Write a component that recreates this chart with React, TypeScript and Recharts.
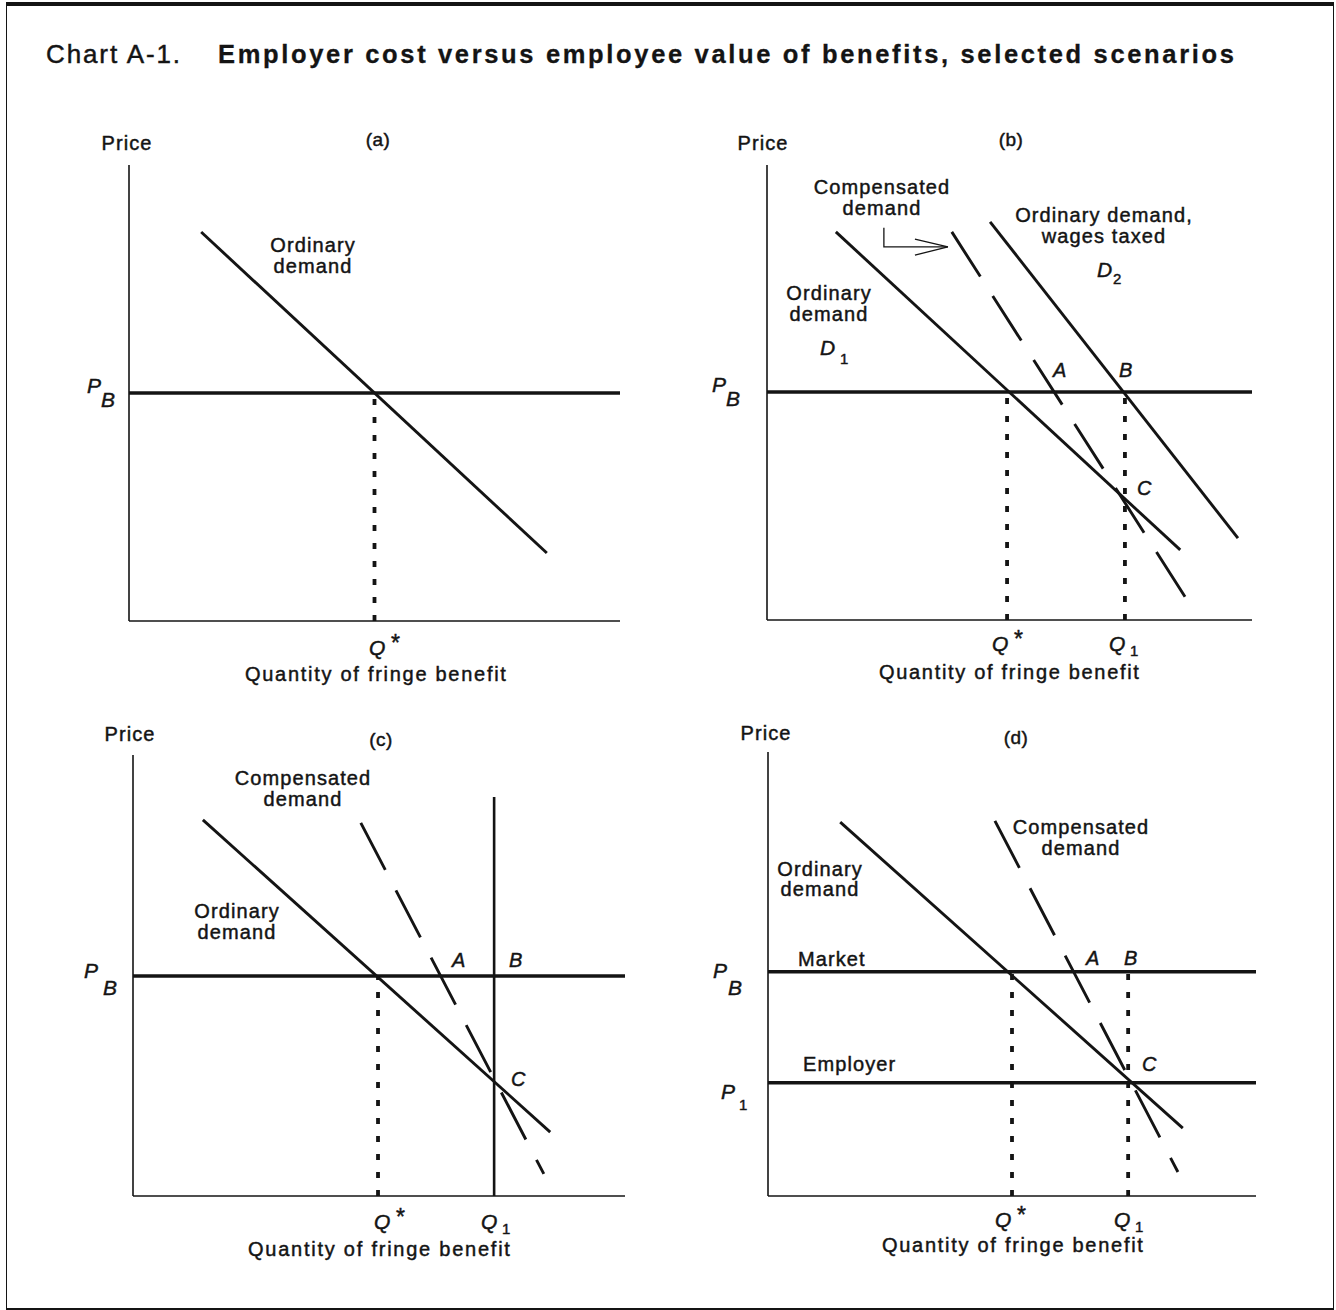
import React from 'react';
import { LineChart, Line, XAxis, YAxis, ReferenceLine } from 'recharts';

// all values on a 0-100 quantity (x) / price (y) scale per panel

// (a)
const aOrdinary = [{ q: 14.7, p: 85.3 }, { q: 85.1, p: 14.9 }];
const aPriceB = 50;
const aQStar = 50;

// (b)
const bOrdinary = [{ q: 14.2, p: 85.3 }, { q: 85.2, p: 15.4 }];
const bCompensated = [{ q: 38.1, p: 85.3 }, { q: 86.2, p: 5.1 }];
const bTaxed = [{ q: 46.0, p: 87.5 }, { q: 97.1, p: 18.0 }];
const bArrow = [{ q: 24.1, p: 86.2 }, { q: 24.1, p: 82.0 }, { q: 37.3, p: 82.0 }];
const bArrowHead = [{ q: 30.5, p: 83.7 }, { q: 37.3, p: 82.0 }, { q: 30.5, p: 80.2 }];
const bPriceB = 50.1;
const bQStar = 49.5;
const bQ1 = 73.8;

// (c)
const cOrdinary = [{ q: 14.2, p: 85.3 }, { q: 84.8, p: 14.5 }];
const cCompensated = [{ q: 46.3, p: 84.6 }, { q: 83.5, p: 5.0 }];
const cSupply = [{ q: 73.4, p: 90.5 }, { q: 73.4, p: 0 }];
const cPriceB = 49.9;
const cQStar = 49.8;

// (d)
const dOrdinary = [{ q: 14.8, p: 84.2 }, { q: 85.0, p: 15.3 }];
const dCompensated = [{ q: 46.5, p: 84.5 }, { q: 84.0, p: 5.4 }];
const dPriceB = 50.5;
const dPrice1 = 25.5;
const dQStar = 50.0;
const dQ1 = 73.8;

const INK = '#141414';
const PAD = 6;
const FONT = '"Liberation Sans", Arial, Helvetica, sans-serif';

function Panel({ left, top, width, height, children }: any) {
  return (
    <div style={{ position: 'absolute', left: left - PAD, top: top - PAD }}>
      <LineChart
        width={width + PAD * 2}
        height={height + PAD * 2}
        margin={{ top: PAD, right: PAD, bottom: PAD, left: PAD }}
      >
        <XAxis type="number" dataKey="q" domain={[0, 100]} hide />
        <YAxis type="number" dataKey="p" domain={[0, 100]} hide />
        {/* axes drawn at the origin */}
        <ReferenceLine x={0} stroke={INK} strokeWidth={1.6} ifOverflow="visible" />
        <ReferenceLine y={0} stroke={INK} strokeWidth={1.6} ifOverflow="visible" />
        {children}
      </LineChart>
    </div>
  );
}

const solid = (data: any[], w = 2.9) => (
  <Line
    data={data}
    dataKey="p"
    type="linear"
    stroke={INK}
    strokeWidth={w}
    dot={false}
    activeDot={false}
    isAnimationActive={false}
  />
);

const dashed = (data: any[]) => (
  <Line
    data={data}
    dataKey="p"
    type="linear"
    stroke={INK}
    strokeWidth={2.9}
    strokeDasharray="53 23"
    dot={false}
    activeDot={false}
    isAnimationActive={false}
  />
);

const priceLine = (y: number) => (
  <ReferenceLine y={y} stroke={INK} strokeWidth={3.4} ifOverflow="visible" />
);

const dotted = (x: number, y: number) => (
  <ReferenceLine
    segment={[{ x, y: 0 }, { x, y }]}
    stroke={INK}
    strokeWidth={3.8}
    strokeDasharray="6 12"
    ifOverflow="visible"
  />
);

function T({ x, y, children, size = 20, anchor = 'start', italic = false, bold = false, ls = 1.1, len }: any) {
  return (
    <text
      x={x}
      y={y}
      fontSize={size}
      textAnchor={anchor}
      fontStyle={italic ? 'italic' : 'normal'}
      fontWeight={bold ? 'bold' : 'normal'}
      letterSpacing={ls}
      textLength={len}
      lengthAdjust={len ? 'spacing' : undefined}
      fill={INK}
      stroke={INK}
      strokeWidth={bold ? 0.3 : 0.45}
    >
      {children}
    </text>
  );
}

// italic symbol with optional subscript / superscript
function Sym({ x, y, main, sub, sup, subDx = 16, subDy = 9 }: any) {
  return (
    <>
      <T x={x} y={y} italic size={21} ls={0}>{main}</T>
      {sub ? <T x={x + subDx} y={y + subDy} size={15} ls={0}>{sub}</T> : null}
      {sup ? <T x={x + 22} y={y - 4} size={23} ls={0}>{sup}</T> : null}
    </>
  );
}

function Labels() {
  return (
    <svg
      width={1336}
      height={1310}
      style={{ position: 'absolute', left: 0, top: 0, pointerEvents: 'none', fontFamily: FONT }}
    >
      <T x={46} y={63} size={26} ls={0} len={134}>Chart A-1.</T>
      <T x={218} y={63} size={25.5} bold len={1017}>
        Employer cost versus employee value of benefits, selected scenarios
      </T>

      {/* (a) */}
      <T x={127} y={150} anchor="middle">Price</T>
      <T x={378} y={146} anchor="middle" size={19} ls={0.5}>(a)</T>
      <T x={313} y={252} anchor="middle">Ordinary</T>
      <T x={313} y={273} anchor="middle">demand</T>
      <T x={87} y={393} italic size={21} ls={0}>P</T>
      <T x={101} y={407} italic size={21} ls={0}>B</T>
      <Sym x={369} y={655} main="Q" sup="*" />
      <T x={245} y={681} len={262}>Quantity of fringe benefit</T>

      {/* (b) */}
      <T x={763} y={150} anchor="middle">Price</T>
      <T x={1011} y={146} anchor="middle" size={19} ls={0.5}>(b)</T>
      <T x={882} y={194} anchor="middle">Compensated</T>
      <T x={882} y={215} anchor="middle">demand</T>
      <T x={1104} y={222} anchor="middle">Ordinary demand,</T>
      <T x={1104} y={243} anchor="middle">wages taxed</T>
      <Sym x={1097} y={277} main="D" sub="2" subDx={16} subDy={7} />
      <T x={829} y={300} anchor="middle">Ordinary</T>
      <T x={829} y={321} anchor="middle">demand</T>
      <Sym x={820} y={355} main="D" sub="1" subDx={20} subDy={9} />
      <T x={1053} y={377} italic size={20} ls={0}>A</T>
      <T x={1119} y={377} italic size={20} ls={0}>B</T>
      <T x={1137} y={495} italic size={20} ls={0}>C</T>
      <T x={712} y={392} italic size={21} ls={0}>P</T>
      <T x={726} y={406} italic size={21} ls={0}>B</T>
      <Sym x={992} y={651} main="Q" sup="*" />
      <Sym x={1109} y={651} main="Q" sub="1" subDx={21} subDy={5} />
      <T x={879} y={679} len={261}>Quantity of fringe benefit</T>

      {/* (c) */}
      <T x={130} y={741} anchor="middle">Price</T>
      <T x={381} y={746} anchor="middle" size={19} ls={0.5}>(c)</T>
      <T x={303} y={785} anchor="middle">Compensated</T>
      <T x={303} y={806} anchor="middle">demand</T>
      <T x={237} y={918} anchor="middle">Ordinary</T>
      <T x={237} y={939} anchor="middle">demand</T>
      <T x={452} y={967} italic size={20} ls={0}>A</T>
      <T x={509} y={967} italic size={20} ls={0}>B</T>
      <T x={511} y={1086} italic size={20} ls={0}>C</T>
      <T x={84} y={978} italic size={21} ls={0}>P</T>
      <T x={103} y={995} italic size={21} ls={0}>B</T>
      <Sym x={374} y={1229} main="Q" sup="*" />
      <Sym x={481} y={1229} main="Q" sub="1" subDx={21} subDy={5} />
      <T x={248} y={1256} len={263}>Quantity of fringe benefit</T>

      {/* (d) */}
      <T x={766} y={740} anchor="middle">Price</T>
      <T x={1016} y={744} anchor="middle" size={19} ls={0.5}>(d)</T>
      <T x={1081} y={834} anchor="middle">Compensated</T>
      <T x={1081} y={855} anchor="middle">demand</T>
      <T x={820} y={876} anchor="middle">Ordinary</T>
      <T x={820} y={896} anchor="middle">demand</T>
      <T x={798} y={966}>Market</T>
      <T x={803} y={1071}>Employer</T>
      <T x={1086} y={965} italic size={20} ls={0}>A</T>
      <T x={1124} y={965} italic size={20} ls={0}>B</T>
      <T x={1142} y={1071} italic size={20} ls={0}>C</T>
      <T x={713} y={978} italic size={21} ls={0}>P</T>
      <T x={728} y={995} italic size={21} ls={0}>B</T>
      <Sym x={721} y={1099} main="P" sub="1" subDx={18} subDy={11} />
      <Sym x={995} y={1227} main="Q" sup="*" />
      <Sym x={1114} y={1227} main="Q" sub="1" subDx={21} subDy={5} />
      <T x={882} y={1252} len={262}>Quantity of fringe benefit</T>
    </svg>
  );
}

export default function App() {
  return (
    <div
      style={{
        position: 'absolute',
        left: 0,
        top: 0,
        width: 1336,
        height: 1310,
        background: '#fff',
        fontFamily: FONT,
        overflow: 'hidden',
      }}
    >
      <div
        style={{
          position: 'absolute',
          left: 6,
          top: 2,
          width: 1326,
          height: 1302,
          borderTop: `4px solid ${INK}`,
          borderLeft: `1px solid ${INK}`,
          borderRight: `1px solid ${INK}`,
          borderBottom: `3px solid ${INK}`,
        }}
      />

      <Panel left={129} top={165} width={491} height={456}>
        {priceLine(aPriceB)}
        {dotted(aQStar, aPriceB)}
        {solid(aOrdinary)}
      </Panel>

      <Panel left={767} top={165} width={485} height={455}>
        {priceLine(bPriceB)}
        {dotted(bQStar, bPriceB)}
        {dotted(bQ1, bPriceB)}
        {solid(bOrdinary)}
        {dashed(bCompensated)}
        {solid(bTaxed)}
        {solid(bArrow, 1.3)}
        {solid(bArrowHead, 1.3)}
      </Panel>

      <Panel left={133} top={755} width={492} height={441}>
        {priceLine(cPriceB)}
        {dotted(cQStar, cPriceB)}
        {solid(cSupply, 2.6)}
        {solid(cOrdinary)}
        {dashed(cCompensated)}
      </Panel>

      <Panel left={768} top={752} width={488} height={444}>
        {priceLine(dPriceB)}
        {priceLine(dPrice1)}
        {dotted(dQStar, dPriceB)}
        {dotted(dQ1, dPriceB)}
        {solid(dOrdinary)}
        {dashed(dCompensated)}
      </Panel>

      <Labels />
    </div>
  );
}
